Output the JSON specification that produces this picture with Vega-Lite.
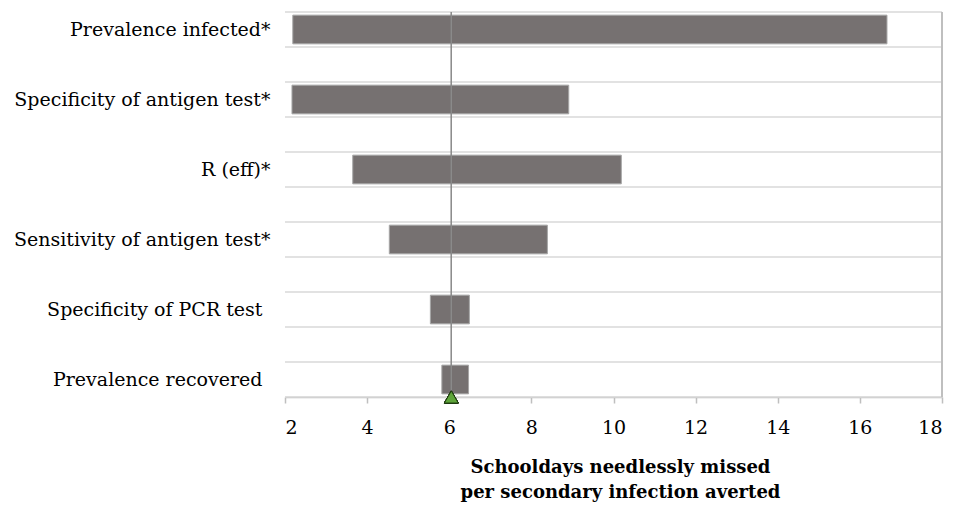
{
  "$schema": "https://vega.github.io/schema/vega-lite/v6.json",
  "autosize": {"type": "none"},
  "width": 657,
  "height": 385,
  "padding": {"left": 285, "top": 12, "right": 21, "bottom": 115},
  "background": "white",
  "config": {"view": {"stroke": null}, "font": "DejaVu Serif"},
  "data": {
    "values": [
      {"param": "Prevalence infected*", "low": 2.19, "high": 16.66},
      {"param": "Specificity of antigen test*", "low": 2.17, "high": 8.91},
      {"param": "R (eff)*", "low": 3.65, "high": 10.19},
      {"param": "Sensitivity of antigen test*", "low": 4.54, "high": 8.39},
      {"param": "Specificity of PCR test", "low": 5.54, "high": 6.49},
      {"param": "Prevalence recovered", "low": 5.82, "high": 6.47}
    ]
  },
  "layer": [
    {
      "mark": {"type": "rule", "color": "#d9d9d9", "strokeWidth": 1.5},
      "encoding": {
        "y": {"field": "param", "type": "nominal", "sort": null, "bandPosition": 0}
      }
    },
    {
      "mark": {"type": "rule", "color": "#d9d9d9", "strokeWidth": 1.5},
      "encoding": {
        "y": {"field": "param", "type": "nominal", "sort": null, "bandPosition": 1}
      }
    },
    {
      "mark": {"type": "rule", "color": "#bfbfbf", "strokeWidth": 1.5},
      "encoding": {"x": {"datum": 18, "type": "quantitative"}}
    },
    {
      "mark": {"type": "bar", "color": "#767171", "stroke": "#a6a6a6", "strokeWidth": 1, "height": {"band": 0.82}},
      "encoding": {
        "y": {
          "field": "param", "type": "nominal", "sort": null,
          "scale": {"paddingInner": 0.5, "paddingOuter": 0},
          "axis": {
            "title": null, "domain": false, "ticks": false, "grid": false,
            "labelFont": "DejaVu Serif", "labelFontSize": 19, "labelColor": "#000000",
            "labelPadding": {"condition": {"test": "indexof(datum.label, '*') >= 0", "value": 15}, "value": 23},
            "labelLimit": 300
          }
        },
        "x": {
          "field": "low", "type": "quantitative",
          "scale": {"domain": [2, 18], "nice": false, "zero": false},
          "axis": {
            "values": [2, 4, 6, 8, 10, 12, 14, 16, 18],
            "title": ["Schooldays needlessly missed", "per secondary infection averted"],
            "titleFont": "DejaVu Serif", "titleFontSize": 18, "titleFontWeight": "bold",
            "titleColor": "#000000", "titleLineHeight": 25, "titlePadding": 21,
            "titleX": 335,
            "labelFont": "DejaVu Serif", "labelFontSize": 19, "labelColor": "#000000",
            "labelPadding": 15, "grid": false,
            "domainColor": "#bfbfbf", "domainWidth": 1.5,
            "tickColor": "#bfbfbf", "tickWidth": 1.5, "tickSize": 6
          }
        },
        "x2": {"field": "high"}
      }
    },
    {
      "mark": {"type": "rule", "color": "#8c8c8c", "strokeWidth": 0.6},
      "encoding": {"x": {"datum": 6.05, "type": "quantitative"}}
    },
    {
      "mark": {"type": "point", "shape": "triangle-up", "size": 196, "filled": true, "fill": "#5ea53a", "stroke": "#1e3a10", "strokeWidth": 1, "opacity": 1},
      "encoding": {
        "x": {"datum": 6.05, "type": "quantitative"},
        "y": {"datum": "Prevalence recovered", "type": "nominal", "bandPosition": 1}
      }
    }
  ]
}
